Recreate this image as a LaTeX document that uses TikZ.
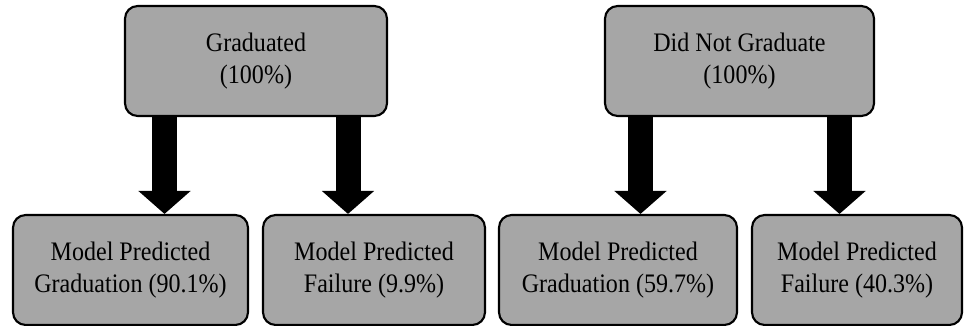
\documentclass[tikz,border=0pt]{standalone}
\usepackage{fontspec}
\setmainfont{Liberation Serif}[FakeStretch=0.9]
\usepackage{tikz}
\usetikzlibrary{arrows.meta,positioning,calc}
\definecolor{boxgray}{RGB}{166,166,166}

\begin{document}
\begin{tikzpicture}[
    box/.style={rectangle, draw=black, fill=boxgray, line width=1.5pt, rounded corners=9pt, align=center, minimum height=2.75cm, inner sep=0pt},
    flow/.style={-{Triangle[width=1.275cm, length=0.575cm]}, line width=0.625cm, color=black},
    every node/.style={font=\fontsize{19}{23.2}\selectfont}
]
    \useasboundingbox (0,0) rectangle (24.1,-8.15);

    % Top layer: actual outcome
    \node [box, minimum width=6.55cm] (grad) at (6.4,-1.525) {Graduated\\(100\%)};
    \node [box, minimum width=6.725cm] (nograd) at (18.4875,-1.525) {Did Not Graduate\\(100\%)};

    % Bottom layer: model predictions
    \node [box, minimum width=5.875cm] (gradgrad) at (3.2625,-6.75) {Model Predicted\\Graduation (90.1\%)};
    \node [box, minimum width=5.55cm] (gradfail) at (9.35,-6.75) {Model Predicted\\Failure (9.9\%)};
    \node [box, minimum width=5.95cm] (nogradgrad) at (15.45,-6.75) {Model Predicted\\Graduation (59.7\%)};
    \node [box, minimum width=5.25cm] (nogradfail) at (21.425,-6.75) {Model Predicted\\Failure (40.3\%)};

    % Arrow columns
    \coordinate (a1) at (4.1125,0);
    \coordinate (a2) at (8.7,0);
    \coordinate (a3) at (16.0125,0);
    \coordinate (a4) at (20.9875,0);

    % Connections
    \draw [flow] (grad.south -| a1) -- (gradgrad.north -| a1);
    \draw [flow] (grad.south -| a2) -- (gradfail.north -| a2);
    \draw [flow] (nograd.south -| a3) -- (nogradgrad.north -| a3);
    \draw [flow] (nograd.south -| a4) -- (nogradfail.north -| a4);
\end{tikzpicture}
\end{document}
